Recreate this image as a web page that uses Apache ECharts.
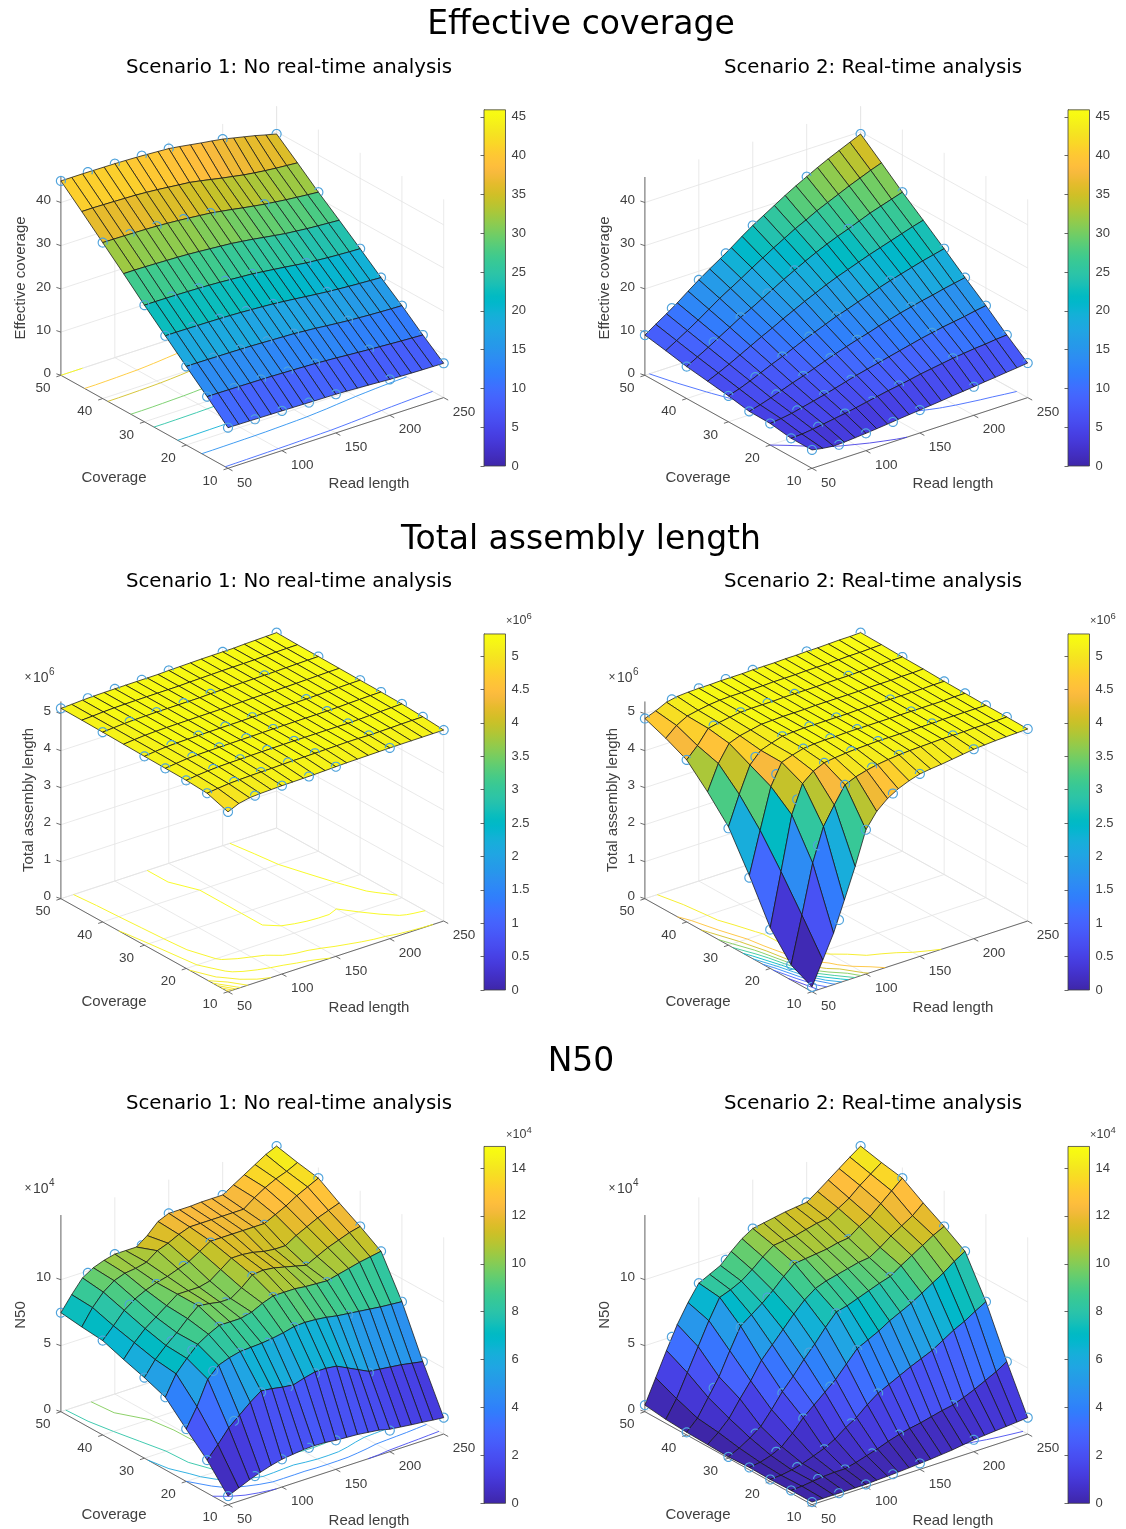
<!DOCTYPE html>
<html><head><meta charset="utf-8">
<style>html,body{margin:0;padding:0;background:#fff}#c{width:1126px;height:1529px}</style>
<script src="https://cdn.jsdelivr.net/npm/echarts@6/dist/echarts.min.js"></script>
</head><body><div id="c"></div>
<script>
// ---------- axes of the data ----------
const readLengths = [50,60,70,80,90,100,110,120,130,140,150,160,170,180,190,200,210,220,230,240,250];
const coverages = [10,15,20,25,30,35,40,45,50];
const sampleReads = [50,75,100,125,150,200,250];
const sampleCoverages = [10,15,20,25,30,40,50];
const readTicks = [50,100,150,200,250];
const coverageTicks = [10,20,30,40,50];

// ---------- surfaces: one row per coverage, one column per read length ----------
const effectiveS1 = [
[9.4,9.36,9.32,9.28,9.24,9.2,9.16,9.1,9.05,9.0,8.96,8.85,8.72,8.6,8.45,8.3,8.2,8.12,8.05,8.0,7.95],
[13.9,13.88,13.85,13.82,13.78,13.75,13.7,13.62,13.54,13.45,13.35,13.2,13.05,12.85,12.68,12.5,12.35,12.2,12.05,11.92,11.8],
[18.2,18.2,18.17,18.13,18.1,18.05,18.0,17.9,17.8,17.7,17.6,17.4,17.2,16.95,16.72,16.5,16.35,16.2,16.08,15.98,15.9],
[22.6,22.6,22.57,22.53,22.5,22.45,22.37,22.27,22.12,21.97,21.8,21.55,21.3,21.02,20.75,20.5,20.3,20.12,19.97,19.84,19.7],
[27.0,27.0,26.97,26.93,26.87,26.8,26.7,26.57,26.4,26.22,26.05,25.75,25.45,25.15,24.82,24.5,24.28,24.08,23.93,23.8,23.7],
[31.6,31.6,31.55,31.47,31.38,31.3,31.17,31.0,30.8,30.6,30.4,30.08,29.75,29.35,28.97,28.6,28.35,28.1,27.92,27.76,27.6],
[36.1,36.07,36.03,35.97,35.9,35.8,35.65,35.47,35.25,35.0,34.75,34.35,33.95,33.5,33.1,32.7,32.4,32.1,31.85,31.62,31.4],
[40.6,40.6,40.54,40.47,40.38,40.3,40.13,39.93,39.67,39.4,39.15,38.7,38.2,37.7,37.25,36.8,36.45,36.15,35.9,35.7,35.5],
[45.0,45.0,45.0,44.97,44.93,44.9,44.83,44.73,44.6,44.45,44.3,43.95,43.55,43.15,42.8,42.4,41.85,41.3,40.75,40.1,39.5]];
const effectiveS2 = [
[4.25,3.8,3.5,3.6,3.8,4.0,4.25,4.5,4.8,5.05,5.3,5.55,5.8,6.1,6.35,6.6,6.9,7.15,7.45,7.7,8.0],
[4.25,4.4,4.7,5.1,5.5,5.9,6.4,6.9,7.4,7.9,8.3,8.8,9.3,9.7,10.1,10.5,10.8,11.1,11.3,11.6,11.8],
[5.0,5.3,5.7,6.3,6.9,7.5,8.2,8.9,9.6,10.2,10.8,11.4,12.0,12.6,13.2,13.7,14.2,14.6,15.0,15.5,15.9],
[5.1,5.8,6.6,7.5,8.4,9.2,10.1,11.0,11.9,12.7,13.5,14.2,15.0,15.7,16.4,17.0,17.6,18.1,18.7,19.2,19.7],
[6.0,6.8,7.8,8.9,10.0,11.0,12.1,13.2,14.2,15.2,16.2,17.0,17.9,18.7,19.6,20.4,21.1,21.8,22.5,23.1,23.7],
[6.7,7.8,9.0,10.3,11.6,12.9,14.1,15.4,16.6,17.8,18.9,20.0,21.0,21.9,22.8,23.7,24.5,25.3,26.1,26.9,27.6],
[7.4,8.8,10.2,11.7,13.2,14.7,16.0,17.4,18.8,20.2,21.5,22.8,24.0,25.1,26.1,27.0,28.0,29.0,29.8,30.6,31.4],
[8.4,9.9,11.4,13.0,14.7,16.4,17.9,19.4,21.0,22.5,24.0,25.4,26.8,28.0,29.3,30.4,31.5,32.6,33.6,34.6,35.5],
[9.3,11.0,12.6,14.3,16.2,18.0,19.7,21.3,23.0,24.8,26.5,28.0,29.5,31.0,32.4,33.7,35.0,36.2,37.3,38.4,39.5]];
const assemblyS1 = [
[4.86,4.99,5.05,5.07,5.08,5.09,5.095,5.10,5.105,5.115,5.125,5.135,5.14,5.145,5.15,5.155,5.157,5.158,5.159,5.16,5.161],
[5.05,5.085,5.115,5.13,5.14,5.145,5.15,5.16,5.168,5.17,5.175,5.18,5.185,5.19,5.19,5.18,5.185,5.19,5.198,5.202,5.205],
[5.085,5.12,5.145,5.165,5.172,5.177,5.182,5.187,5.19,5.193,5.195,5.195,5.195,5.195,5.195,5.19,5.2,5.21,5.22,5.23,5.238],
[5.095,5.13,5.16,5.175,5.18,5.185,5.19,5.193,5.196,5.2,5.203,5.205,5.207,5.208,5.208,5.208,5.215,5.225,5.235,5.243,5.247],
[5.105,5.14,5.165,5.178,5.184,5.188,5.192,5.195,5.198,5.2,5.206,5.21,5.213,5.215,5.216,5.218,5.226,5.234,5.242,5.248,5.252],
[5.117,5.145,5.168,5.18,5.186,5.19,5.193,5.196,5.198,5.2,5.208,5.213,5.218,5.222,5.224,5.226,5.232,5.24,5.247,5.253,5.258],
[5.13,5.15,5.17,5.182,5.188,5.192,5.195,5.197,5.199,5.2,5.21,5.216,5.222,5.228,5.231,5.233,5.238,5.245,5.252,5.258,5.263],
[5.14,5.153,5.172,5.184,5.19,5.193,5.196,5.198,5.2,5.201,5.212,5.218,5.225,5.231,5.234,5.236,5.24,5.25,5.258,5.263,5.268],
[5.145,5.157,5.175,5.186,5.191,5.194,5.197,5.199,5.2,5.202,5.214,5.22,5.227,5.233,5.236,5.238,5.241,5.255,5.263,5.272,5.28]];
const assemblyS2 = [
[0.13,0.76,1.39,2.19,3.0,3.9,4.3,4.55,4.72,4.84,4.93,4.97,5.0,5.04,5.08,5.12,5.14,5.16,5.17,5.18,5.19],
[0.41,1.66,2.97,3.86,4.35,4.8,4.92,5.0,5.06,5.1,5.13,5.15,5.16,5.17,5.18,5.18,5.18,5.19,5.19,5.19,5.2],
[1.1,2.52,3.96,4.71,4.95,5.08,5.12,5.15,5.17,5.18,5.19,5.19,5.19,5.19,5.19,5.19,5.2,5.2,5.2,5.2,5.2],
[2.2,3.32,4.41,4.97,5.07,5.15,5.18,5.19,5.19,5.2,5.2,5.2,5.2,5.2,5.2,5.2,5.2,5.2,5.2,5.21,5.21],
[3.2,3.98,4.68,4.98,5.08,5.17,5.19,5.2,5.2,5.2,5.2,5.2,5.21,5.21,5.21,5.21,5.21,5.21,5.21,5.22,5.22],
[3.83,4.5,4.95,5.06,5.12,5.18,5.19,5.2,5.2,5.2,5.21,5.21,5.21,5.21,5.21,5.22,5.22,5.22,5.23,5.23,5.24],
[4.38,4.67,5.04,5.1,5.15,5.19,5.2,5.2,5.2,5.21,5.21,5.21,5.21,5.22,5.22,5.22,5.23,5.23,5.24,5.25,5.25],
[4.65,4.9,5.06,5.12,5.17,5.2,5.21,5.21,5.21,5.21,5.22,5.22,5.22,5.23,5.23,5.23,5.24,5.25,5.25,5.26,5.27],
[4.87,4.98,5.12,5.18,5.2,5.21,5.21,5.22,5.22,5.22,5.23,5.23,5.23,5.24,5.24,5.25,5.25,5.26,5.27,5.27,5.28]];
const n50S1 = [
[0.65,1.0,1.35,1.65,1.9,2.1,2.2,2.3,2.33,2.3,2.2,2.15,2.1,2.0,1.9,1.7,1.6,1.5,1.42,1.32,1.24],
[2.5,3.4,4.4,5.1,5.8,6.4,6.3,6.15,6.05,6.3,6.5,6.5,6.4,6.0,5.6,5.2,5.1,5.0,4.9,4.75,4.6],
[3.97,5.4,7.2,8.0,8.3,8.5,8.55,8.6,8.7,8.85,9.05,9.1,9.05,8.95,8.8,8.7,8.6,8.5,8.4,8.33,8.26],
[5.5,7.0,7.9,8.7,9.2,9.6,9.6,9.6,9.8,10.2,10.5,10.5,10.5,10.4,10.35,10.3,10.5,10.7,10.9,11.05,11.2],
[6.1,7.2,8.0,8.7,9.5,10.2,10.1,9.95,9.95,10.5,11.2,11.3,11.2,11.0,10.8,10.6,11.0,11.4,11.7,12.0,12.2],
[6.6,7.6,8.4,9.0,9.6,10.2,10.2,10.2,10.4,11.0,11.6,11.6,11.5,11.3,11.2,11.2,11.7,12.1,12.5,12.8,13.1],
[7.15,8.0,8.9,9.5,9.9,10.2,10.4,10.7,11.0,11.5,12.0,12.0,12.0,12.0,12.0,12.0,12.4,12.8,13.3,13.7,14.1],
[7.3,8.5,9.4,10.0,10.3,10.4,10.6,11.2,11.5,11.9,12.2,12.2,12.2,12.2,12.2,12.2,12.8,13.3,13.7,14.0,14.4],
[7.5,8.6,9.6,10.1,10.4,10.6,10.6,10.6,11.2,12.0,12.35,12.35,12.35,12.4,12.4,12.4,12.9,13.4,13.9,14.4,14.77]];
const n50S2 = [
[0.2,0.2,0.2,0.2,0.2,0.2,0.25,0.28,0.33,0.38,0.45,0.5,0.58,0.66,0.78,0.9,0.97,1.04,1.1,1.17,1.24],
[0.2,0.25,0.35,0.45,0.5,0.5,0.7,0.95,1.2,1.5,1.75,1.95,2.1,2.3,2.5,2.65,2.95,3.3,3.7,4.1,4.6],
[0.15,0.2,0.33,0.55,0.85,1.16,1.6,2.2,2.7,3.4,4.0,4.4,4.8,5.2,5.55,5.9,6.4,6.9,7.3,7.8,8.26],
[0.18,0.3,0.55,0.95,1.7,2.6,3.3,4.0,4.7,5.6,6.5,6.9,7.3,7.8,8.2,8.6,9.1,9.6,10.1,10.7,11.2],
[0.1,0.5,1.0,1.6,2.6,3.7,4.6,5.6,6.5,7.5,8.4,8.6,8.9,9.2,9.5,9.75,10.3,10.8,11.3,11.8,12.2],
[0.15,0.8,1.6,2.8,3.9,5.2,6.1,7.0,7.9,8.7,9.3,9.6,9.8,10.0,10.2,10.3,10.8,11.4,11.9,12.4,13.1],
[0.2,1.0,2.3,3.6,5.3,6.9,7.5,8.1,8.8,9.6,10.3,10.4,10.5,10.6,10.8,10.9,11.5,12.0,12.7,13.4,14.1],
[0.3,1.6,3.3,5.0,6.7,8.2,8.5,8.9,9.5,10.2,10.8,10.9,11.0,11.2,11.4,11.5,12.0,12.5,13.2,13.8,14.4],
[0.5,2.3,4.1,5.8,7.2,8.4,8.8,9.2,10.0,10.7,11.2,11.35,11.5,11.65,11.75,11.85,12.4,13.0,13.6,14.2,14.77]];

// ---------- sampled points (open circles): one row per sample coverage ----------
const effectiveS1Points = [
[9.4,9.3,9.2,9.07,8.96,8.3,7.95],[13.9,13.85,13.75,13.6,13.35,12.5,11.8],[18.2,18.15,18.05,17.9,17.6,16.5,15.9],
[22.6,22.55,22.45,22.2,21.8,20.5,19.7],[27,26.95,26.8,26.5,26.05,24.5,23.7],[36.1,36,35.8,35.4,34.75,32.7,31.4],[45,45,44.9,44.7,44.3,42.4,39.5]];
const effectiveS2Points = [
[4.25,3.4,4.0,4.6,5.3,6.6,8.0],[4.25,4.9,5.9,6.7,8.3,10.5,11.8],[5.0,6.0,7.5,9.0,10.8,13.7,15.9],
[5.1,7.0,9.2,11.3,13.5,17.0,19.7],[6.0,8.3,11.0,13.6,16.2,20.4,23.7],[7.4,11.0,14.7,18.2,21.5,27,31.4],[9.3,13.5,18,22.1,26.5,33.7,39.5]];
const assemblyS1Points = [
[4.86,5.06,5.09,5.1,5.125,5.155,5.161],[5.05,5.12,5.145,5.165,5.175,5.18,5.205],[5.085,5.155,5.177,5.19,5.195,5.19,5.238],
[5.095,5.167,5.185,5.195,5.203,5.208,5.247],[5.105,5.17,5.188,5.197,5.206,5.218,5.252],[5.13,5.175,5.192,5.198,5.21,5.233,5.263],[5.145,5.18,5.194,5.2,5.214,5.238,5.28]];
const assemblyS2Points = [
[0.13,1.7,3.9,4.64,4.93,5.12,5.19],[0.41,3.4,4.8,5.03,5.13,5.18,5.2],[1.05,4.33,5.08,5.16,5.19,5.19,5.2],
[2.14,4.7,5.15,5.19,5.2,5.2,5.21],[3.16,4.85,5.17,5.2,5.2,5.21,5.22],[4.38,5.07,5.19,5.2,5.21,5.22,5.25],[4.87,5.15,5.21,5.22,5.23,5.25,5.28]];
const n50S1Points = [
[0.65,1.5,2.1,2.3,2.2,1.6,1.24],[2.5,4.8,6.3,6.0,6.4,5.1,4.6],[3.97,7.7,8.4,8.5,9.0,8.6,8.26],
[5.5,8.4,9.5,9.5,10.4,10.2,11.2],[6.1,8.2,10.1,9.8,11.1,10.5,12.2],[7.15,9.2,10.1,10.8,11.9,11.9,14.1],[7.5,9.85,10.6,10.6,12.35,12.4,14.77]];
const n50S2Points = [
[0.2,0.2,0.2,0.3,0.45,0.9,1.24],[0.2,0.4,0.45,1.0,1.75,2.65,4.6],[0.15,0.42,1.1,2.4,4.0,5.8,8.26],
[0.18,0.7,2.55,4.3,6.4,8.5,11.2],[0.1,1.2,3.6,6.0,8.3,9.7,12.2],[0.2,2.9,6.8,8.4,10.2,10.8,14.1],[0.5,5.0,8.4,9.5,11.2,11.85,14.77]];

// ---------- ticks, contour levels, labels ----------
const effectiveTicks = [0,10,20,30,40];
const assemblyTicks = [0,1,2,3,4,5];
const n50Ticks = [0,5,10];
const effectiveLevels = [5,10,15,20,25,30,35,40,45];
const assemblyS1Levels = [4.88,4.92,4.96,5.0,5.04,5.08,5.12,5.16,5.2,5.24];
const assemblyS2Levels = [0.5,1,1.5,2,2.5,3,3.5,4,4.5,5];
const n50Levels = [2,4,6,8,10,12,14];
const sectionTitles = ['Effective coverage','Total assembly length','N50'];
const scenarioTitles = ['Scenario 1: No real-time analysis','Scenario 2: Real-time analysis'];

// ---------- parula colour map (style) ----------
const parula = [[.2422,.1504,.6603],[.2504,.165,.7076],[.2578,.1818,.7511],[.2647,.1978,.7952],[.2706,.2147,.8364],[.2751,.2342,.871],[.2783,.2559,.8991],[.2803,.2782,.9221],[.2813,.3006,.9414],[.281,.3228,.9579],[.2795,.3447,.9717],[.276,.3667,.9829],[.2699,.3892,.9906],[.2602,.4123,.9952],[.244,.4358,.9988],[.2206,.4603,.9973],[.1963,.4847,.9892],[.1834,.5074,.9798],[.1786,.5289,.9682],[.1764,.5499,.952],[.1687,.5703,.9359],[.154,.5902,.9218],[.146,.6091,.9079],[.138,.6276,.8973],[.1248,.6459,.8883],[.1113,.6635,.8763],[.0952,.6798,.8598],[.0689,.6948,.8394],[.0297,.7082,.8163],[.0036,.7203,.7917],[.0067,.7312,.766],[.0433,.7411,.7394],[.0964,.75,.712],[.1408,.7584,.6842],[.1717,.767,.6554],[.1938,.7758,.6251],[.2161,.7843,.5923],[.247,.7918,.5567],[.2906,.7973,.5188],[.3406,.8008,.4789],[.3909,.8029,.4354],[.4456,.8024,.3909],[.5044,.7993,.348],[.5616,.7942,.3045],[.6174,.7876,.2612],[.672,.7793,.2227],[.7242,.7698,.191],[.7738,.7598,.1646],[.8203,.7498,.1535],[.8634,.7406,.1596],[.9035,.733,.1774],[.9393,.7288,.21],[.9728,.7298,.2394],[.9956,.7434,.2371],[.997,.7659,.2199],[.9952,.7861,.199],[.9892,.8134,.1766],[.9786,.8422,.1546],[.9676,.872,.1382],[.961,.8998,.1257],[.9597,.9265,.1107],[.9628,.9537,.0948],[.9691,.9772,.0693],[.9769,.9839,.0805]];
function cmap(f){
  f = Math.max(0,Math.min(0.9999,f));
  const c = parula[Math.floor(f*parula.length)];
  return 'rgb('+c.map(v=>Math.round(v*255)).join(',')+')';
}

// ---------- view of the 3D box (orthographic) ----------
const view = {
  nearX:228, ex:[215.7,-70.7], ey:[-167.1,-93], depth:[149.7,196.9,-93.5], boxH:198
};
const TXT = '#404040', FONT = '"Liberation Sans", Arial, sans-serif';
const rowsCfg = [
 {top:100,h:410,near:468.3,zmax:45.9,pxPerUnit:4.32,ticks:effectiveTicks,title:sectionTitles[0],titleY:22,subY:66,zLabel:'Effective coverage',zLabelX:21,zLabelY:278,interval:5,exp:null},
 {top:610,h:410,near:991.7,zmax:5.33,pxPerUnit:37,ticks:assemblyTicks,title:sectionTitles[1],titleY:537,subY:580,zLabel:'Total assembly length',zLabelX:29,zLabelY:800,interval:0.5,exp:'6',expY:678,cbExpY:621},
 {top:1125,h:404,near:1504.7,zmax:14.9,pxPerUnit:13.2,ticks:n50Ticks,title:sectionTitles[2],titleY:1059,subY:1102,zLabel:'N50',zLabelX:21,zLabelY:1315,interval:2,exp:'4',expY:1189,cbExpY:1135}
];
const panelsCfg = [
 {row:0,col:0,z:effectiveS1,pts:effectiveS1Points,levels:effectiveLevels},
 {row:0,col:1,z:effectiveS2,pts:effectiveS2Points,levels:effectiveLevels},
 {row:1,col:0,z:assemblyS1,pts:assemblyS1Points,levels:assemblyS1Levels},
 {row:1,col:1,z:assemblyS2,pts:assemblyS2Points,levels:assemblyS2Levels},
 {row:2,col:0,z:n50S1,pts:n50S1Points,levels:n50Levels},
 {row:2,col:1,z:n50S2,pts:n50S2Points,levels:n50Levels}
];
const colDX = 584, rMin=50, rMax=250, cMin=10, cMax=50;

function makeProj(row){
  const cfg = rowsCfg[row], ny = cfg.near-cfg.top;
  return (r,c,z)=>{
    const t=(r-rMin)/(rMax-rMin), u=(c-cMin)/(cMax-cMin);
    return [view.nearX+view.ex[0]*t+view.ey[0]*u, ny+view.ex[1]*t+view.ey[1]*u-cfg.pxPerUnit*z];
  };
}
function makeDepth(row){
  const cfg = rowsCfg[row];
  return (r,c,z)=>view.depth[0]*(r-rMin)/(rMax-rMin)+view.depth[1]*(c-cMin)/(cMax-cMin)+view.depth[2]*z/cfg.zmax;
}

// marching squares on the floor
function contourSegs(Z,level){
  const segs=[];
  for(let j=0;j<coverages.length-1;j++)for(let i=0;i<readLengths.length-1;i++){
    const cs=[[readLengths[i],coverages[j],Z[j][i]],[readLengths[i+1],coverages[j],Z[j][i+1]],
              [readLengths[i+1],coverages[j+1],Z[j+1][i+1]],[readLengths[i],coverages[j+1],Z[j+1][i]]];
    const pts=[];
    for(let k=0;k<4;k++){
      const a=cs[k],b=cs[(k+1)%4];
      if((a[2]>=level)!==(b[2]>=level)){
        const f=(level-a[2])/(b[2]-a[2]);
        pts.push([a[0]+f*(b[0]-a[0]),a[1]+f*(b[1]-a[1])]);
      }
    }
    if(pts.length===2)segs.push(pts);
    else if(pts.length===4){segs.push([pts[0],pts[1]]);segs.push([pts[2],pts[3]]);}
  }
  return segs;
}

// visibility of each marker arc against the surface (depth test)
function visibleArcs(p){
  const proj=makeProj(p.row), dep=makeDepth(p.row), tris=[];
  const add=(a,b,c)=>tris.push({a,b,c,
    x0:Math.min(a[0],b[0],c[0]),x1:Math.max(a[0],b[0],c[0]),y0:Math.min(a[1],b[1],c[1]),y1:Math.max(a[1],b[1],c[1])});
  const V=(j,i)=>{const q=proj(readLengths[i],coverages[j],p.z[j][i]);return [q[0],q[1],dep(readLengths[i],coverages[j],p.z[j][i])];};
  for(let j=0;j<coverages.length-1;j++)for(let i=0;i<readLengths.length-1;i++){
    const A=V(j,i),B=V(j,i+1),C=V(j+1,i+1),D=V(j+1,i);
    add(A,B,C);add(A,C,D);
  }
  const occluded=(x,y,d)=>{
    for(const T of tris){
      if(x<T.x0||x>T.x1||y<T.y0||y>T.y1)continue;
      const a=T.a,b=T.b,c=T.c;
      const den=(b[1]-c[1])*(a[0]-c[0])+(c[0]-b[0])*(a[1]-c[1]);
      if(Math.abs(den)<1e-6)continue;
      const l1=((b[1]-c[1])*(x-c[0])+(c[0]-b[0])*(y-c[1]))/den;
      const l2=((c[1]-a[1])*(x-c[0])+(a[0]-c[0])*(y-c[1]))/den;
      const l3=1-l1-l2;
      if(l1<-1e-6||l2<-1e-6||l3<-1e-6)continue;
      if(l1*a[2]+l2*b[2]+l3*c[2]<d-0.2)return true;
    }
    return false;
  };
  const R=4.5,K=36,out=[];
  sampleCoverages.forEach((c,j)=>sampleReads.forEach((r,i)=>{
    const z=p.pts[j][i],q=proj(r,c,z),d=dep(r,c,z),vis=[];
    for(let k=0;k<K;k++){
      const a=2*Math.PI*k/K;
      vis.push(!occluded(q[0]+R*Math.cos(a),q[1]+R*Math.sin(a),d));
    }
    let s=-1;for(let k=0;k<K;k++){if(!vis[k]){s=k;break;}}
    if(s<0){const all=[];for(let k=0;k<=K;k++){const a=2*Math.PI*k/K;all.push([q[0]+R*Math.cos(a),q[1]+R*Math.sin(a)]);}out.push(all);return;}
    let cur=null;
    for(let n=1;n<=K;n++){
      const k=(s+n)%K;
      if(vis[k]){
        const a=2*Math.PI*k/K,pt=[q[0]+R*Math.cos(a),q[1]+R*Math.sin(a)];
        if(!cur){cur=[];out.push(cur);}
        cur.push(pt);
      } else cur=null;
    }
  }));
  return out.filter(a=>a.length>1);
}

// ---------- option ----------
const option={animation:false,backgroundColor:'#fff',title:[],grid:[],xAxis:[],yAxis:[],series:[]};

rowsCfg.forEach(cfg=>{
  option.title.push({text:cfg.title,left:581,top:cfg.titleY-13,textAlign:'center',padding:0,
    textStyle:{fontFamily:'"DejaVu Sans"',fontSize:33,fontWeight:'normal',color:'#000'}});
  scenarioTitles.forEach((t,k)=>option.title.push({text:t,left:289+584*k,top:cfg.subY-8,textAlign:'center',padding:0,
    textStyle:{fontFamily:'"DejaVu Sans"',fontSize:19.75,fontWeight:'normal',color:'#000'}}));
});

panelsCfg.forEach(p=>{
  const cfg=rowsCfg[p.row], dx=p.col*colDX, proj=makeProj(p.row);
  const gi=option.grid.length;
  option.grid.push({left:dx,top:cfg.top,width:540,height:cfg.h,show:false});
  option.xAxis.push({type:'value',gridIndex:gi,min:0,max:540,show:false});
  option.yAxis.push({type:'value',gridIndex:gi,min:0,max:cfg.h,inverse:true,show:false});
  const base={type:'custom',coordinateSystem:'cartesian2d',xAxisIndex:gi,yAxisIndex:gi,silent:true,clip:false,animation:false,progressive:0};

  // frame: grid lines, axes, ticks, labels
  option.series.push(Object.assign({},base,{data:[[0,0]],z:1,renderItem:(params,api)=>{
    const pt=(r,c,z)=>api.coord(proj(r,c,z));
    const ch=[];
    const line=(a,b,col,w)=>ch.push({type:'line',shape:{x1:a[0],y1:a[1],x2:b[0],y2:b[1]},style:{stroke:col,lineWidth:w}});
    const text=(s,x,y,align,font,extra)=>ch.push(Object.assign({type:'text',x,y,style:{text:s,fill:TXT,font,align,verticalAlign:'middle'}},extra||{}));
    const GC='#e3e3e3',AC='#5c5c5c',tf='13.5px '+FONT,lf='15px '+FONT;
    readTicks.forEach(r=>{
      line(pt(r,cMin,0),pt(r,cMax,0),GC,0.8);
      line(pt(r,cMax,0),pt(r,cMax,cfg.zmax),GC,0.8);
    });
    coverageTicks.forEach(c=>{
      line(pt(rMin,c,0),pt(rMax,c,0),GC,0.8);
      line(pt(rMax,c,0),pt(rMax,c,cfg.zmax),GC,0.8);
    });
    cfg.ticks.forEach(z=>{
      line(pt(rMin,cMax,z),pt(rMax,cMax,z),GC,0.8);
      line(pt(rMax,cMax,z),pt(rMax,cMin,z),GC,0.8);
    });
    line(pt(rMin,cMax,0),pt(rMin,cMin,0),AC,0.9);
    line(pt(rMin,cMin,0),pt(rMax,cMin,0),AC,0.9);
    line(pt(rMin,cMax,0),pt(rMin,cMax,cfg.zmax),AC,0.9);
    readTicks.forEach(r=>{
      const a=pt(r,cMin,0);
      line(a,[a[0]+4.5,a[1]+2.5],AC,0.9);
      text(String(r),a[0]+9,a[1]+14.5,'left',tf);
    });
    coverageTicks.forEach(c=>{
      const a=pt(rMin,c,0);
      line(a,[a[0]-4.5,a[1]+1.5],AC,0.9);
      text(String(c),a[0]-10.5,a[1]+13,'right',tf);
    });
    cfg.ticks.forEach(z=>{
      const a=pt(rMin,cMax,z);
      line(a,[a[0]-4.5,a[1]-1.5],AC,0.9);
      text(String(z),a[0]-10,a[1]-2,'right',tf);
    });
    const n=pt(rMin,cMin,0);
    text('Coverage',n[0]-114,n[1]+10,'center',lf);
    text('Read length',n[0]+141,n[1]+16,'center',lf);
    const zl=api.coord([cfg.zLabelX,cfg.zLabelY-cfg.top]);
    text(cfg.zLabel,zl[0],zl[1],'center',lf,{rotation:Math.PI/2});
    if(cfg.exp){
      const e=api.coord([24,cfg.expY-cfg.top]);
      text('\u00d7',e[0]+4,e[1],'center','12px '+FONT);
      text('10',e[0]+9,e[1],'left','14px '+FONT);
      text(cfg.exp,e[0]+25,e[1]-6,'left','10px '+FONT);
    }
    return {type:'group',children:ch};
  }}));

  // floor contours
  const contourData=p.levels.map(l=>[l,0]);
  option.series.push(Object.assign({},base,{data:contourData,z:2,renderItem:(params,api)=>{
    const level=p.levels[params.dataIndex],col=cmap(level/cfg.zmax);
    return {type:'group',children:contourSegs(p.z,level).map(s=>{
      const a=api.coord(proj(s[0][0],s[0][1],0)),b=api.coord(proj(s[1][0],s[1][1],0));
      return {type:'line',shape:{x1:a[0],y1:a[1],x2:b[0],y2:b[1]},style:{stroke:col,lineWidth:0.9}};
    })};
  }}));

  // surface, back to front
  const faces=[];
  for(let j=coverages.length-2;j>=0;j--)for(let i=readLengths.length-2;i>=0;i--)faces.push([i,j]);
  option.series.push(Object.assign({},base,{data:faces,z:3,renderItem:(params,api)=>{
    const f=faces[params.dataIndex],i=f[0],j=f[1];
    const v=(jj,ii)=>api.coord(proj(readLengths[ii],coverages[jj],p.z[jj][ii]));
    return {type:'polygon',shape:{points:[v(j,i),v(j,i+1),v(j+1,i+1),v(j+1,i)]},
      style:{fill:cmap(p.z[j][i]/cfg.zmax),stroke:'#141414',lineWidth:0.75,lineJoin:'round'}};
  }}));

  // sample points with depth-tested arcs
  const arcs=visibleArcs(p);
  option.series.push(Object.assign({},base,{data:arcs.map((a,k)=>[k,0]),z:4,renderItem:(params,api)=>({
    type:'polyline',shape:{points:arcs[params.dataIndex].map(q=>api.coord(q))},
    style:{stroke:'#4fa3dc',lineWidth:1.15,fill:'none'}
  })}));

  // colour bar: a real value axis with a gradient rectangle on it
  const cb=option.grid.length;
  const cbBottom=cfg.near-(p.row===0?2.3:p.row===1?1.7:1.4);
  const cbH=cfg.zmax*(p.row===0?7.76:p.row===1?66.8:23.95);
  option.grid.push({left:484+dx,top:cbBottom-cbH,width:21.5,height:cbH,show:false});
  option.xAxis.push({type:'value',gridIndex:cb,min:0,max:1,show:false});
  option.yAxis.push({type:'value',gridIndex:cb,position:'right',min:0,max:cfg.zmax,interval:cfg.interval,
    axisLine:{show:true,lineStyle:{color:'#404040',width:0.8}},
    axisTick:{show:true,inside:true,length:3.5,lineStyle:{color:'#404040',width:0.8}},
    splitLine:{show:false},
    axisLabel:{show:true,margin:6,color:TXT,fontFamily:'"Liberation Sans"',fontSize:13,showMaxLabel:false,hideOverlap:false,
      formatter:v=>String(Math.round(v*10)/10)}});
  option.series.push({type:'custom',coordinateSystem:'cartesian2d',xAxisIndex:cb,yAxisIndex:cb,silent:true,clip:false,z:1,
    data:[[0,0]],renderItem:(params,api)=>{
      const a=api.coord([0,0]),b=api.coord([1,cfg.zmax]);
      const stops=parula.map((c,k)=>({offset:k/(parula.length-1),color:'rgb('+c.map(v=>Math.round(v*255)).join(',')+')'}));
      const ch=[{type:'rect',shape:{x:a[0],y:b[1],width:b[0]-a[0],height:a[1]-b[1]},
        style:{fill:{type:'linear',x:0,y:1,x2:0,y2:0,colorStops:stops},stroke:'#404040',lineWidth:0.8}}];
      if(cfg.exp){
        const x=a[0]+22,y=cfg.cbExpY;
        ch.push({type:'text',x:x,y:y,style:{text:'\u00d7',fill:TXT,font:'11px '+FONT,align:'left',verticalAlign:'middle'}});
        ch.push({type:'text',x:x+6.5,y:y,style:{text:'10',fill:TXT,font:'12.5px '+FONT,align:'left',verticalAlign:'middle'}});
        ch.push({type:'text',x:x+20.5,y:y-5,style:{text:cfg.exp,fill:TXT,font:'9.5px '+FONT,align:'left',verticalAlign:'middle'}});
      }
      return {type:'group',children:ch};
    }});
});

const chart=echarts.init(document.getElementById('c'),null,{renderer:'canvas',width:1126,height:1529});
chart.setOption(option);
</script></body></html>
